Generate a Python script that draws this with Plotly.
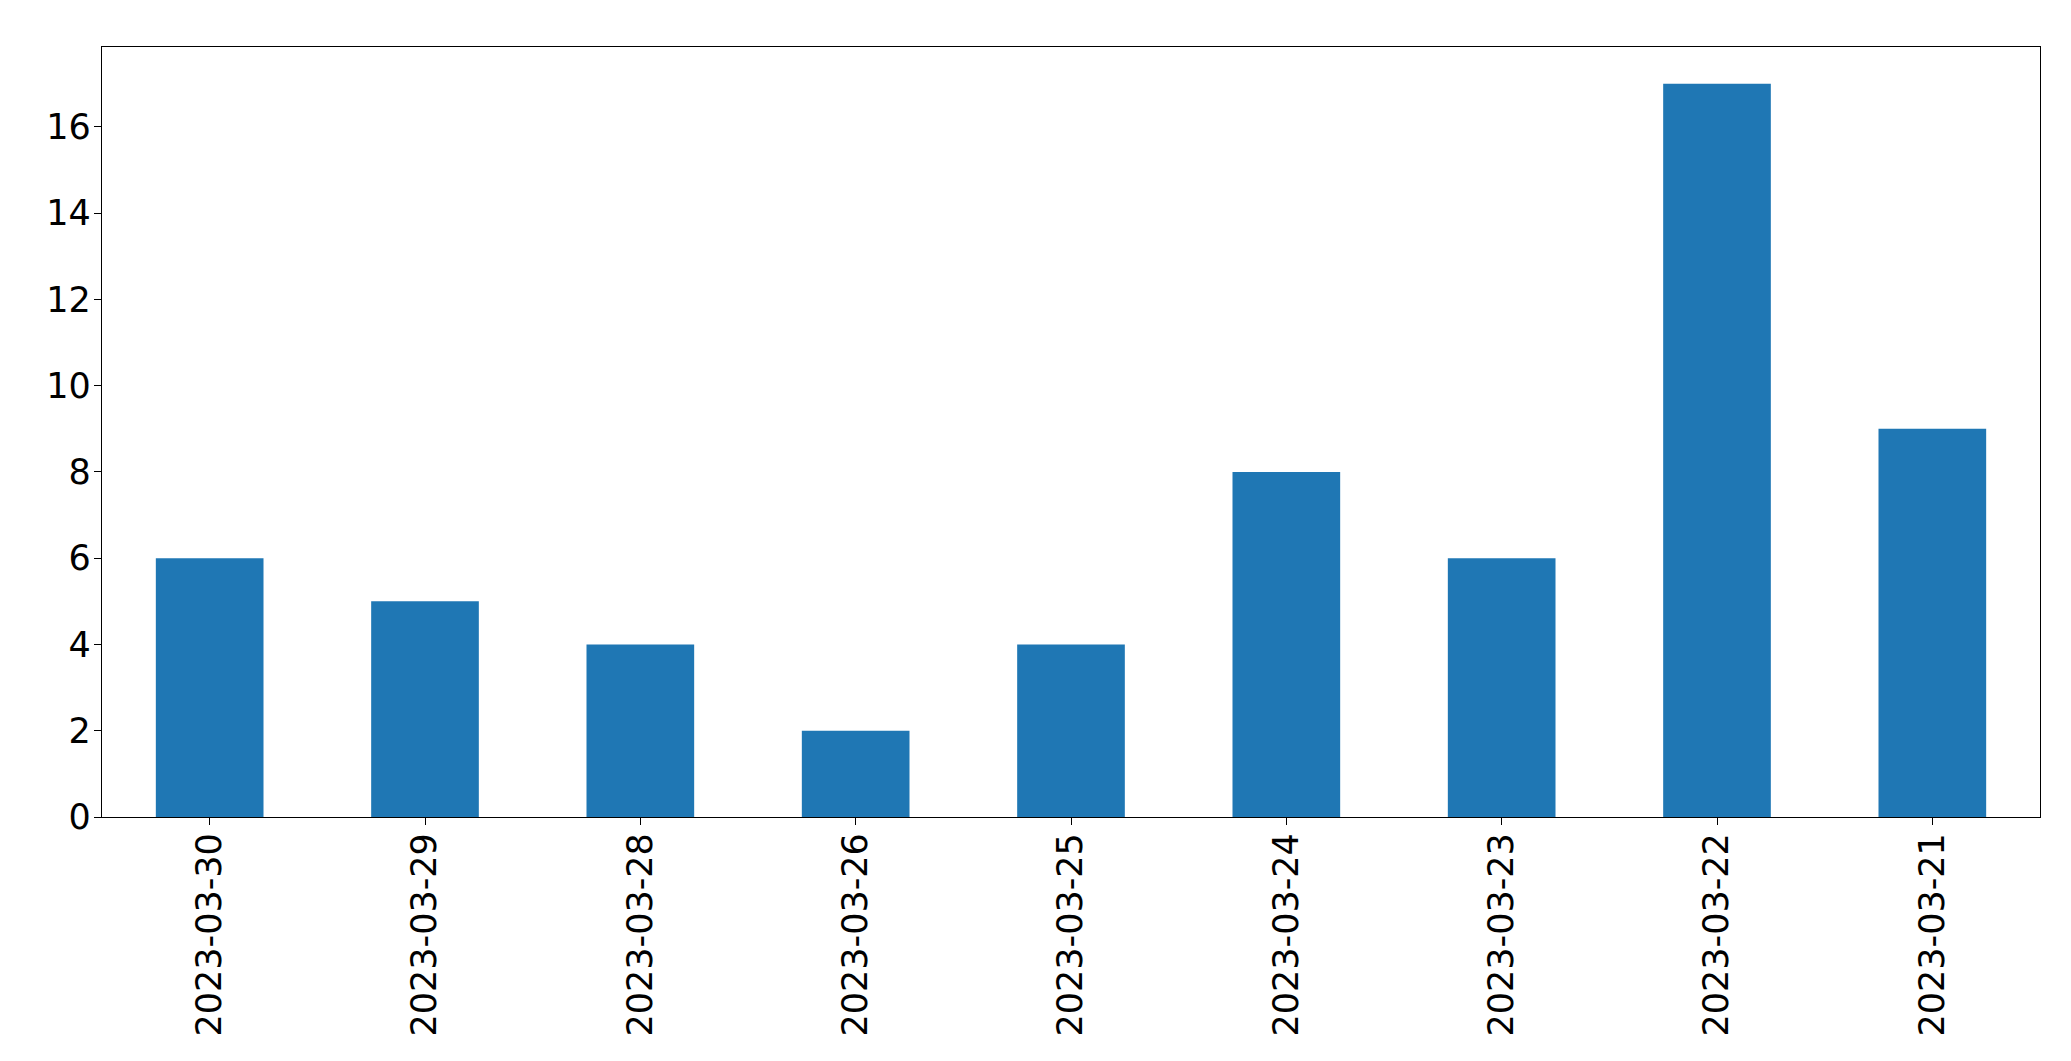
import plotly.graph_objects as go

dates = ["2023-03-30", "2023-03-29", "2023-03-28", "2023-03-26", "2023-03-25",
         "2023-03-24", "2023-03-23", "2023-03-22", "2023-03-21"]
counts = [6, 5, 4, 2, 4, 8, 6, 17, 9]
y_ticks = [0, 2, 4, 6, 8, 10, 12, 14, 16]

fig = go.Figure(go.Bar(x=list(range(len(dates))), y=counts, width=0.5,
                       marker=dict(color="#1f77b4", line=dict(width=0))))

fig.update_layout(
    width=2071, height=1061,
    margin=dict(l=94, r=39, t=39, b=252),
    paper_bgcolor="white", plot_bgcolor="white",
    font=dict(family="DejaVu Sans", size=35, color="black"),
    showlegend=False,
)
fig.update_xaxes(
    tickmode="array", tickvals=list(range(len(dates))), ticktext=dates,
    tickangle=-90, range=[-0.5, len(dates) - 0.5],
    showline=True, mirror=True, linecolor="black", linewidth=1.3,
    ticks="outside", ticklen=7, tickwidth=1.3, tickcolor="black",
    ticklabelstandoff=-6,
    showgrid=False, zeroline=False,
)
fig.update_yaxes(
    tickmode="array", tickvals=y_ticks, range=[0, max(counts) * 1.05],
    showline=True, mirror=True, linecolor="black", linewidth=1.3,
    ticks="outside", ticklen=7, tickwidth=1.3, tickcolor="black",
    ticklabelstandoff=-4,
    showgrid=False, zeroline=False,
)
fig.write_html("out.html")
